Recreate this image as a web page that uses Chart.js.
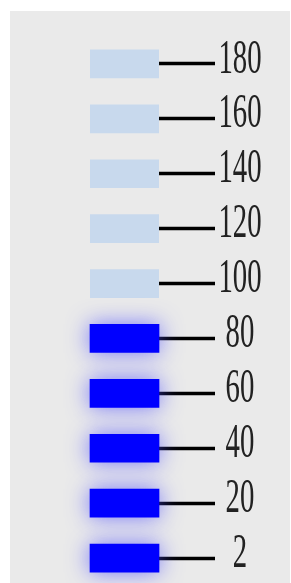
<!DOCTYPE html>
<html>
<head>
<meta charset="utf-8">
<script src="https://cdn.jsdelivr.net/npm/chart.js@4"></script>
<style>
  html, body { margin: 0; padding: 0; background: #fff; overflow: hidden; }
  #wrap { position: absolute; left: 10px; top: 11px; width: 280px; height: 590px; background: #eaeaea; }
</style>
</head>
<body>
<div id="wrap"><canvas id="gauge" width="280" height="590"></canvas></div>
<script>
// scale labels, top to bottom
const levels = ["180", "160", "140", "120", "100", "80", "60", "40", "20", "2"];
// segments that are lit (up to 80) and the ones that are not
const litSegments = [null, null, null, null, null, 1, 1, 1, 1, 1];
const idleSegments = [1, 1, 1, 1, 1, null, null, null, null, null];

const litBlue = "#0000ff";
const idleBlue = "#c8d9ed";
const labelFont = "48px \"Liberation Serif\", \"DejaVu Serif\", serif";

// soft blue glow round the lit segments
const glow = {
  id: "glow",
  beforeDatasetDraw(chart, args) {
    if (args.index !== 0) return;
    const ctx = chart.ctx;
    ctx.save();
    ctx.shadowColor = "rgba(80, 80, 255, 0.75)";
    ctx.shadowBlur = 22;
  },
  afterDatasetDraw(chart, args) {
    if (args.index !== 0) return;
    chart.ctx.restore();
  }
};

// narrow serif labels next to each tick
const tallLabels = {
  id: "tallLabels",
  afterDraw(chart) {
    const { ctx } = chart;
    const yScale = chart.scales.y;
    ctx.save();
    ctx.font = labelFont;
    ctx.fillStyle = "#222";
    ctx.textAlign = "center";
    ctx.textBaseline = "middle";
    yScale.ticks.forEach((t, i) => {
      const y = yScale.getPixelForTick(i);
      ctx.save();
      ctx.translate(230, y - 4);
      ctx.scale(0.6, 1);
      ctx.fillText(levels[i], 0, 0);
      ctx.restore();
    });
    ctx.restore();
  }
};

function draw() {
  new Chart(document.getElementById("gauge"), {
    type: "bar",
    data: {
      labels: levels,
      datasets: [
        { label: "lit", data: litSegments, backgroundColor: litBlue, barThickness: 28, clip: false },
        { label: "idle", data: idleSegments, backgroundColor: idleBlue, barThickness: 28 }
      ]
    },
    options: {
      indexAxis: "y",
      responsive: false,
      animation: false,
      layout: { padding: { left: 80, top: 25.5, bottom: 15.5, right: 0 } },
      scales: {
        x: { display: false, stacked: true, min: 0, max: 1 },
        y: {
          position: "right",
          stacked: true,
          border: { display: false },
          grid: {
            offset: false,
            drawOnChartArea: false,
            drawTicks: true,
            tickLength: 56,
            tickWidth: 3.5,
            tickColor: "#000"
          },
          ticks: { display: false },
          afterFit(scale) { scale.width = 131; }
        }
      },
      plugins: {
        legend: { display: false },
        tooltip: { enabled: false }
      }
    },
    plugins: [glow, tallLabels]
  });
}

document.fonts.load(labelFont).then(draw, draw);
</script>
</body>
</html>
